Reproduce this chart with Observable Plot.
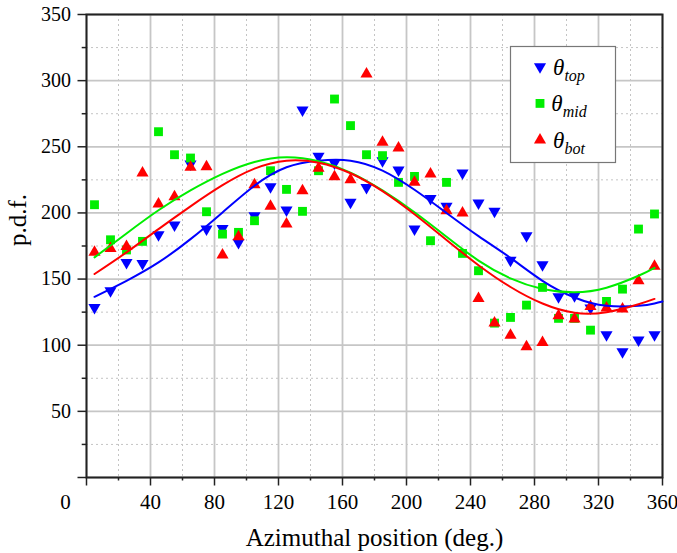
<!DOCTYPE html>
<html>
<head>
<meta charset="utf-8">
<script src="https://cdn.jsdelivr.net/npm/d3@7"></script>
<script src="https://cdn.jsdelivr.net/npm/@observablehq/plot@0.6"></script>
<style>
  body { margin: 0; background: #fff; }
  #chart { width: 677px; height: 553px; }
</style>
</head>
<body>
<div id="chart"></div>
<script>
// ---- data ----
const angles = [5,15,25,35,45,55,65,75,85,95,105,115,125,135,145,155,165,175,185,195,205,215,225,235,245,255,265,275,285,295,305,315,325,335,345,355];
const thetaTop = [128.6,141.2,162.6,161.8,183.5,190.8,237.0,187.8,188.3,177.7,197.9,219.8,202.2,277.8,242.8,237.7,208.0,219.3,239.5,232.4,187.8,211.0,205.0,230.2,207.5,201.2,164.2,182.8,160.8,136.6,137.4,128.1,107.9,95.0,103.9,107.9];
const thetaMid = [206.2,179.7,172.0,178.5,261.4,244.0,241.5,200.9,184.0,185.3,194.1,231.9,217.8,201.2,231.9,286.1,266.0,244.0,243.3,223.1,227.6,179.0,223.1,169.4,156.3,116.7,121.0,130.3,143.7,120.3,120.3,111.4,133.1,142.4,187.8,199.2];
const thetaBot = [170.2,173.2,174.7,230.2,206.7,212.3,234.5,235.0,168.2,182.0,221.3,205.0,191.6,216.8,233.7,227.4,225.1,305.0,253.4,249.1,223.1,229.4,201.7,199.9,135.4,116.7,107.6,98.8,102.1,122.3,119.8,129.3,128.1,127.4,148.7,159.6];

// fitted curves
const fitAngles = [5,25,45,65,85,105,125,145,165,185,205,225,245,265,285,305,325,345,355];
const fitAnglesTop = [5,25,45,65,85,105,125,145,165,185,205,225,245,265,285,305,325,345,355,360];
const fitTop = [136.6,148.7,162.6,180.2,200.4,220.6,234.5,239.5,239.5,232.0,217.5,200.0,182.5,166.0,148.7,136.1,129.8,129.8,131.6,133.1];
const fitMid = [166.4,184.5,202.0,217.0,229.5,238.5,242.0,239.0,230.5,217.0,200.5,182.0,164.0,150.5,142.5,140.0,143.5,152.5,158.5];
const fitBot = [153.8,170.2,187.8,205.0,221.0,233.5,239.5,238.0,230.0,216.5,199.0,179.5,160.5,144.0,131.5,124.5,125.0,131.0,135.0];

// ticks
const xMajor = [0,40,80,120,160,200,240,280,320,360];
const xMinor = [20,60,100,140,180,220,260,300,340];
const yMajor = [0,50,100,150,200,250,300,350];
const yMinor = [25,75,125,175,225,275,325];

const seriesSubs = ["top","mid","bot"];
const seriesColors = ["#0000ff","#00ee00","#ff0000"];

// ---- tables ----
const pts = (vals) => angles.map((a, i) => ({a, v: vals[i]}));
const fit = (xs, vals) => xs.map((a, i) => ({a, v: vals[i]}));

const FONT = "'Liberation Serif', 'Times New Roman', serif";
const axisCommon = {stroke: "#222", strokeWidth: 1.5, fontSize: 20, fontFamily: FONT, fill: "#000", label: null};

const chart = Plot.plot({
  width: 677,
  height: 553,
  marginLeft: 86,
  marginRight: 15,
  marginTop: 14,
  marginBottom: 76,
  style: {fontFamily: FONT, background: "#fff", color: "#000", overflow: "visible"},
  x: {domain: [0, 360]},
  y: {domain: [0, 350]},
  marks: [
    Plot.gridX(xMinor, {stroke: "#c4c4c4", strokeOpacity: 1, strokeWidth: 1, strokeDasharray: "2,3"}),
    Plot.gridY(yMinor, {stroke: "#c4c4c4", strokeOpacity: 1, strokeWidth: 1, strokeDasharray: "2,3"}),
    Plot.gridX(xMajor, {stroke: "#c6c6c6", strokeOpacity: 1, strokeWidth: 1.8}),
    Plot.gridY(yMajor, {stroke: "#c6c6c6", strokeOpacity: 1, strokeWidth: 1.8}),

    // x axis
    Plot.axisX(xMajor, {...axisCommon, fontSize: 21, tickSize: 8.5, tickPadding: 8.5,
      tickFormat: d => d === 0 ? "" : String(d)}),
    Plot.axisX([0], {...axisCommon, fontSize: 21, tickSize: 0, tickPadding: 17, dx: -21,
      tickFormat: d => String(d)}),
    Plot.axisX(xMinor, {...axisCommon, tickSize: 3.5, tickFormat: () => ""}),

    // y axis
    Plot.axisY(yMajor, {...axisCommon, tickSize: 8.5, tickPadding: 7,
      tickFormat: d => d === 0 ? "" : String(d)}),
    Plot.axisY(yMinor, {...axisCommon, tickSize: 4.3, tickFormat: () => ""}),

    Plot.text(["Azimuthal position (deg.)"], {frameAnchor: "bottom", dy: 60, lineAnchor: "middle",
      fontSize: 25, fontFamily: FONT, fill: "#000"}),
    Plot.text(["p.d.f."], {frameAnchor: "left", dx: -69, rotate: -90, lineAnchor: "middle",
      fontSize: 25, fontFamily: FONT, fill: "#000"}),

    Plot.frame({stroke: "#222", strokeWidth: 2}),

    // data points
    Plot.dot(pts(thetaTop), {x: "a", y: "v", symbol: "triangle", rotate: 180, r: 4.5, fill: seriesColors[0], stroke: "none"}),
    Plot.dot(pts(thetaMid), {x: "a", y: "v", symbol: "square", r: 5, fill: seriesColors[1], stroke: "none"}),
    Plot.dot(pts(thetaBot), {x: "a", y: "v", symbol: "triangle", r: 4.5, fill: seriesColors[2], stroke: "none"}),

    // fitted curves
    Plot.line(fit(fitAnglesTop, fitTop), {x: "a", y: "v", stroke: seriesColors[0], strokeWidth: 2, curve: "natural"}),
    Plot.line(fit(fitAngles, fitMid), {x: "a", y: "v", stroke: seriesColors[1], strokeWidth: 2, curve: "natural"}),
    Plot.line(fit(fitAngles, fitBot), {x: "a", y: "v", stroke: seriesColors[2], strokeWidth: 2, curve: "natural"})
  ]
});

document.getElementById("chart").appendChild(chart);

// ---- legend (inside the frame, top right) ----
const svg = d3.select(chart);
const lg = svg.append("g").attr("class", "legend");
lg.append("rect").attr("x", 510.5).attr("y", 46.5).attr("width", 105).attr("height", 116)
  .attr("fill", "#fff").attr("stroke", "#777").attr("stroke-width", 1.2);
const symbols = [
  {type: d3.symbolTriangle, rot: 180, size: Math.PI * 4.5 * 4.5},
  {type: d3.symbolSquare, rot: 0, size: Math.PI * 5 * 5},
  {type: d3.symbolTriangle, rot: 0, size: Math.PI * 4.5 * 4.5}
];
seriesSubs.forEach((sub, i) => {
  const cy = 66.7 + i * 36.7;
  lg.append("path")
    .attr("d", d3.symbol(symbols[i].type, symbols[i].size)())
    .attr("transform", `translate(540,${cy}) rotate(${symbols[i].rot})`)
    .attr("fill", seriesColors[i]);
  const t = lg.append("text").attr("x", 569).attr("y", cy + 8)
    .attr("font-family", FONT).attr("font-style", "italic").attr("font-size", 23).attr("fill", "#000");
  t.append("tspan").text("θ");
  t.append("tspan").attr("dy", 6).attr("font-size", 16).text(sub);
});
</script>
</body>
</html>
